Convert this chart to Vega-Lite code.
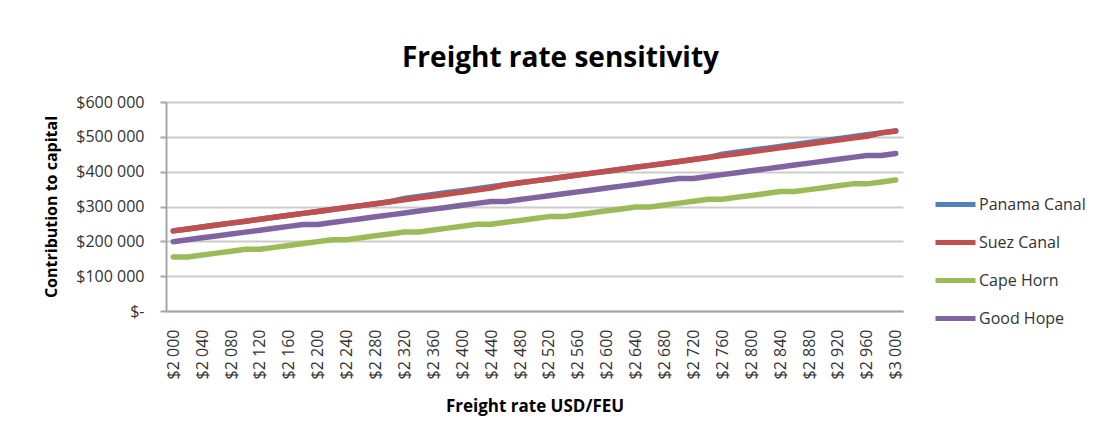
{
  "$schema": "https://vega.github.io/schema/vega-lite/v6.json",
  "width": 737,
  "height": 209,
  "autosize": {"type": "none"},
  "padding": {"left": 166, "top": 102, "right": 201, "bottom": 125},
  "background": "white",
  "title": {"text": "Freight rate sensitivity", "font": "Open Sans", "fontSize": 28, "fontWeight": "bold", "color": "#000000", "anchor": "middle", "dx": 26, "offset": 21},
  "data": {"values": [
    {"rate": 2000, "Panama Canal": 230000, "Suez Canal": 230000, "Cape Horn": 155000, "Good Hope": 199000},
    {"rate": 2020, "Panama Canal": 235600, "Suez Canal": 235600, "Cape Horn": 155000, "Good Hope": 204500},
    {"rate": 2040, "Panama Canal": 241200, "Suez Canal": 241200, "Cape Horn": 160500, "Good Hope": 210000},
    {"rate": 2060, "Panama Canal": 246700, "Suez Canal": 246700, "Cape Horn": 166100, "Good Hope": 215500},
    {"rate": 2080, "Panama Canal": 252300, "Suez Canal": 252300, "Cape Horn": 171600, "Good Hope": 221000},
    {"rate": 2100, "Panama Canal": 257900, "Suez Canal": 257900, "Cape Horn": 177100, "Good Hope": 226500},
    {"rate": 2120, "Panama Canal": 263500, "Suez Canal": 263500, "Cape Horn": 177100, "Good Hope": 232000},
    {"rate": 2140, "Panama Canal": 269100, "Suez Canal": 269100, "Cape Horn": 182600, "Good Hope": 237500},
    {"rate": 2160, "Panama Canal": 274600, "Suez Canal": 274600, "Cape Horn": 188200, "Good Hope": 243000},
    {"rate": 2180, "Panama Canal": 280200, "Suez Canal": 280200, "Cape Horn": 193700, "Good Hope": 248500},
    {"rate": 2200, "Panama Canal": 285800, "Suez Canal": 285800, "Cape Horn": 199200, "Good Hope": 248500},
    {"rate": 2220, "Panama Canal": 291400, "Suez Canal": 291400, "Cape Horn": 204700, "Good Hope": 254000},
    {"rate": 2240, "Panama Canal": 297000, "Suez Canal": 297000, "Cape Horn": 204700, "Good Hope": 259500},
    {"rate": 2260, "Panama Canal": 302500, "Suez Canal": 302500, "Cape Horn": 210300, "Good Hope": 265000},
    {"rate": 2280, "Panama Canal": 308100, "Suez Canal": 308100, "Cape Horn": 215800, "Good Hope": 270500},
    {"rate": 2300, "Panama Canal": 313700, "Suez Canal": 313700, "Cape Horn": 221300, "Good Hope": 276000},
    {"rate": 2320, "Panama Canal": 323300, "Suez Canal": 319300, "Cape Horn": 226800, "Good Hope": 281500},
    {"rate": 2340, "Panama Canal": 328900, "Suez Canal": 324900, "Cape Horn": 226800, "Good Hope": 287000},
    {"rate": 2360, "Panama Canal": 334400, "Suez Canal": 330400, "Cape Horn": 232400, "Good Hope": 292500},
    {"rate": 2380, "Panama Canal": 340000, "Suez Canal": 336000, "Cape Horn": 237900, "Good Hope": 298000},
    {"rate": 2400, "Panama Canal": 345600, "Suez Canal": 341600, "Cape Horn": 243400, "Good Hope": 303500},
    {"rate": 2420, "Panama Canal": 351200, "Suez Canal": 347200, "Cape Horn": 248900, "Good Hope": 309000},
    {"rate": 2440, "Panama Canal": 356800, "Suez Canal": 352800, "Cape Horn": 248900, "Good Hope": 314500},
    {"rate": 2460, "Panama Canal": 362300, "Suez Canal": 362300, "Cape Horn": 254500, "Good Hope": 314500},
    {"rate": 2480, "Panama Canal": 367900, "Suez Canal": 367900, "Cape Horn": 260000, "Good Hope": 320000},
    {"rate": 2500, "Panama Canal": 373500, "Suez Canal": 373500, "Cape Horn": 265500, "Good Hope": 325500},
    {"rate": 2520, "Panama Canal": 379100, "Suez Canal": 379100, "Cape Horn": 271000, "Good Hope": 331000},
    {"rate": 2540, "Panama Canal": 384700, "Suez Canal": 384700, "Cape Horn": 271000, "Good Hope": 336500},
    {"rate": 2560, "Panama Canal": 390200, "Suez Canal": 390200, "Cape Horn": 276600, "Good Hope": 342000},
    {"rate": 2580, "Panama Canal": 395800, "Suez Canal": 395800, "Cape Horn": 282100, "Good Hope": 347500},
    {"rate": 2600, "Panama Canal": 401400, "Suez Canal": 401400, "Cape Horn": 287600, "Good Hope": 353000},
    {"rate": 2620, "Panama Canal": 407000, "Suez Canal": 407000, "Cape Horn": 293100, "Good Hope": 358500},
    {"rate": 2640, "Panama Canal": 412600, "Suez Canal": 412600, "Cape Horn": 298700, "Good Hope": 364000},
    {"rate": 2660, "Panama Canal": 418100, "Suez Canal": 418100, "Cape Horn": 298700, "Good Hope": 369500},
    {"rate": 2680, "Panama Canal": 423700, "Suez Canal": 423700, "Cape Horn": 304200, "Good Hope": 375000},
    {"rate": 2700, "Panama Canal": 429300, "Suez Canal": 429300, "Cape Horn": 309700, "Good Hope": 380500},
    {"rate": 2720, "Panama Canal": 434900, "Suez Canal": 434900, "Cape Horn": 315200, "Good Hope": 380500},
    {"rate": 2740, "Panama Canal": 440500, "Suez Canal": 440500, "Cape Horn": 320800, "Good Hope": 386000},
    {"rate": 2760, "Panama Canal": 450000, "Suez Canal": 446000, "Cape Horn": 320800, "Good Hope": 391500},
    {"rate": 2780, "Panama Canal": 455600, "Suez Canal": 451600, "Cape Horn": 326300, "Good Hope": 397000},
    {"rate": 2800, "Panama Canal": 461200, "Suez Canal": 457200, "Cape Horn": 331800, "Good Hope": 402500},
    {"rate": 2820, "Panama Canal": 466800, "Suez Canal": 462800, "Cape Horn": 337300, "Good Hope": 408000},
    {"rate": 2840, "Panama Canal": 472400, "Suez Canal": 468400, "Cape Horn": 342900, "Good Hope": 413500},
    {"rate": 2860, "Panama Canal": 477900, "Suez Canal": 473900, "Cape Horn": 342900, "Good Hope": 419000},
    {"rate": 2880, "Panama Canal": 483500, "Suez Canal": 479500, "Cape Horn": 348400, "Good Hope": 424500},
    {"rate": 2900, "Panama Canal": 489100, "Suez Canal": 485100, "Cape Horn": 353900, "Good Hope": 430000},
    {"rate": 2920, "Panama Canal": 494700, "Suez Canal": 490700, "Cape Horn": 359400, "Good Hope": 435500},
    {"rate": 2940, "Panama Canal": 500300, "Suez Canal": 496300, "Cape Horn": 365000, "Good Hope": 441000},
    {"rate": 2960, "Panama Canal": 505800, "Suez Canal": 501800, "Cape Horn": 365000, "Good Hope": 446500},
    {"rate": 2980, "Panama Canal": 511400, "Suez Canal": 511400, "Cape Horn": 370500, "Good Hope": 446500},
    {"rate": 3000, "Panama Canal": 517000, "Suez Canal": 517000, "Cape Horn": 376000, "Good Hope": 452000}
  ]},
  "transform": [{"fold": ["Panama Canal", "Suez Canal", "Cape Horn", "Good Hope"], "as": ["route", "value"]}],
  "mark": {"type": "line", "strokeWidth": 5.5, "strokeCap": "round", "strokeJoin": "round"},
  "encoding": {
    "x": {
      "field": "rate", "type": "quantitative",
      "scale": {"domain": [1990, 3010], "nice": false, "zero": false},
      "axis": {
        "values": [2000, 2040, 2080, 2120, 2160, 2200, 2240, 2280, 2320, 2360, 2400, 2440, 2480, 2520, 2560, 2600, 2640, 2680, 2720, 2760, 2800, 2840, 2880, 2920, 2960, 3000],
        "labelExpr": "'$' + floor(datum.value / 1000) + ' ' + format(datum.value % 1000, '03d')",
        "labelAngle": -90, "labelFont": "Open Sans", "labelFontSize": 16, "labelColor": "#333333",
        "labelPadding": 18, "ticks": false, "grid": false, "labelOverlap": false, "labelFlush": false,
        "domainColor": "#a6a6a6", "domainWidth": 2,
        "title": "Freight rate USD/FEU", "titleFont": "Open Sans", "titleFontSize": 17, "titleFontWeight": "bold", "titleColor": "#000000", "titlePadding": 20
      }
    },
    "y": {
      "field": "value", "type": "quantitative",
      "scale": {"domain": [0, 600000], "nice": false},
      "axis": {
        "values": [0, 100000, 200000, 300000, 400000, 500000, 600000],
        "labelExpr": "datum.value == 0 ? '$-' : '$' + (datum.value / 1000) + ' 000'",
        "labelFont": "Open Sans", "labelFontSize": 16, "labelColor": "#333333", "labelPadding": 16,
        "tickSize": 6, "tickColor": "#a6a6a6", "tickWidth": 2,
        "grid": true, "gridColor": "#cccccc", "gridWidth": 2,
        "domainColor": "#a6a6a6", "domainWidth": 2,
        "title": "Contribution to capital", "titleFont": "Open Sans", "titleFontSize": 16, "titleFontWeight": "bold", "titleColor": "#000000", "titlePadding": 16
      }
    },
    "color": {
      "field": "route", "type": "nominal",
      "scale": {"domain": ["Panama Canal", "Suez Canal", "Cape Horn", "Good Hope"], "range": ["#4F81BD", "#C0504D", "#9BBB59", "#8064A2"]},
      "legend": {
        "title": null, "orient": "none", "legendX": 767, "legendY": 80,
        "symbolType": "stroke", "symbolSize": 1600, "symbolStrokeWidth": 5,
        "labelFont": "Open Sans", "labelFontSize": 16, "labelColor": "#333333", "labelOffset": 1,
        "rowPadding": 5
      }
    }
  },
  "config": {"view": {"stroke": null}}
}
